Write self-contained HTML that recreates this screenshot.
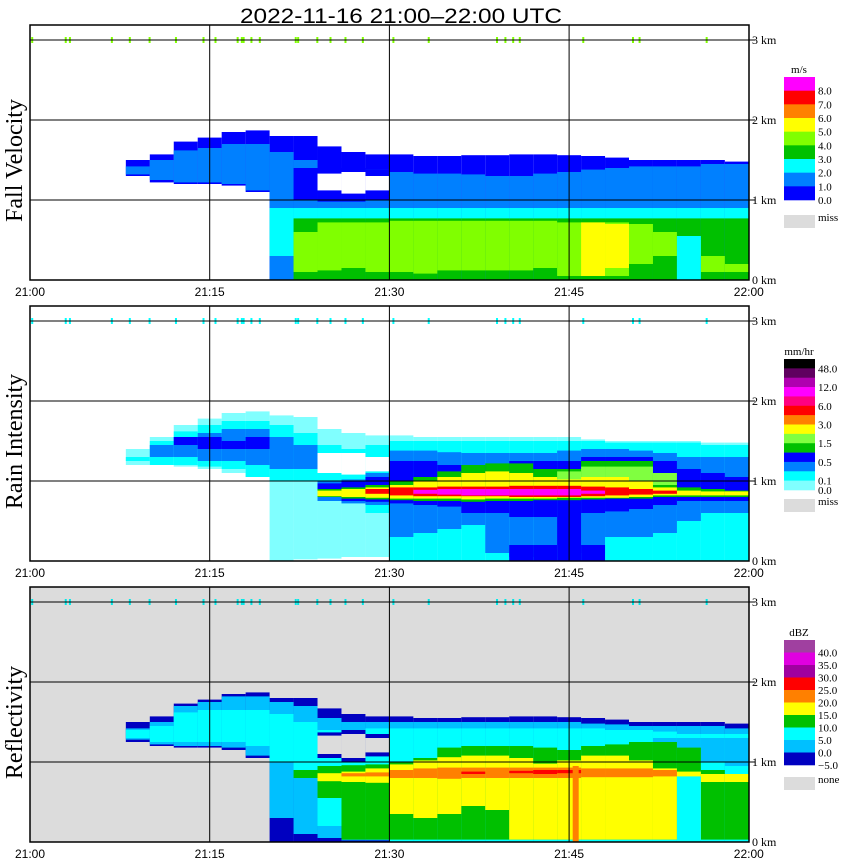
<!DOCTYPE html>
<html><head><meta charset="utf-8"><style>
html,body{margin:0;padding:0;background:#fff;}
svg{display:block;font-family:"Liberation Serif",serif;}
</style></head><body>
<svg id="chart" width="850" height="868" viewBox="0 0 850 868" xmlns="http://www.w3.org/2000/svg">
<text x="240" y="23" font-family="Liberation Sans, sans-serif" font-size="21" textLength="322" lengthAdjust="spacingAndGlyphs">2022-11-16  21:00–22:00 UTC</text>
</svg>
<script>
// ---------- data (minutes after 21:00, 2-min columns, heights in km) ----------
const timeTicks = [0, 15, 30, 45, 60];
const timeLabels = ["21:00", "21:15", "21:30", "21:45", "22:00"];
const kmTicks = [0, 1, 2, 3];
const speckMinutes = [0.1,2.9,3.25,6.75,8.25,9.9,12.1,14.4,15.4,17.25,17.6,17.75,18.4,19.1,22.1,22.3,23.9,25,26.25,27.7,30.25,33.2,38.9,39.6,40.25,40.8,46.1,50.25,50.8,56.4];

// Fall velocity
const fvOuterTop = [1.5,1.57,1.73,1.78,1.85,1.87,1.8,1.8,1.67,1.6,1.57,1.57,1.55,1.55,1.56,1.56,1.57,1.57,1.56,1.55,1.53,1.5,1.5,1.5,1.5,1.48];
const fvOuterBot = [1.3,1.22,1.2,1.2,1.18,1.1,0,0,0,0,0,0,0,0,0,0,0,0,0,0,0,0,0,0,0,0];
const fvMedTop = [1.42,1.5,1.62,1.65,1.7,1.7,1.6,1.5,1.35,1.35,1.38,1.35,1.33,1.33,1.32,1.3,1.3,1.33,1.35,1.38,1.4,1.42,1.42,1.42,1.45,1.45];
const fvMedBot = [1.32,1.25,1.22,1.22,1.2,1.12,0,0,0,0,0,0,0,0,0,0,0,0,0,0,0,0,0,0,0,0];
const fvBandTop = [1.4,1.4,1.4,1.38];
const fvBandBot = [1.0,0.98,0.98,1.0];
const fvHoleTop = [1.33,1.35,1.3];
const fvHoleBot = [1.12,1.08,1.12];
const fvCyanTop = [0.9,0.9,0.9,0.9,0.9,0.9,0.9,0.9,0.9,0.9,0.9,0.9,0.9,0.9,0.9,0.9,0.9,0.9,0.9,0.9];
const fvCyanBot = [0.3,0.5,0.75,0.75,0.75,0.75,0.75,0.75,0.75,0.75,0.75,0.75,0.75,0.75,0.75,0.75,0.75,0.75,0.75,0.75];
const fvGreenTop = [0.77,0.77,0.77,0.77,0.77,0.77,0.77,0.77,0.77,0.77,0.77,0.77,0.77,0.77,0.77,0.77,0.77,0.77,0.77];
const fvGreenBot = [0,0,0,0,0,0,0,0,0,0,0,0,0,0,0,0,0,0,0];
const fvLgTop = [0.6,0.72,0.72,0.72,0.74,0.74,0.74,0.74,0.74,0.74,0.74,0.72,0.72,0.72,0.7,0.6,0.5,0.3,0.2];
const fvLgBot = [0.1,0.12,0.15,0.1,0.1,0.08,0.12,0.12,0.12,0.12,0.15,0.05,0.05,0.05,0.2,0.3,0.3,0.1,0.1];
const fvYelTop = [0.72,0.7];
const fvYelBot = [0.05,0.15];
const fvCyan2Top = [0.55];
const fvCyan2Bot = [0];

// Rain intensity
const riOuterTop = [1.4,1.55,1.7,1.78,1.85,1.87,1.82,1.8,1.65,1.6,1.57,1.57,1.55,1.55,1.55,1.55,1.55,1.55,1.55,1.52,1.5,1.5,1.5,1.5,1.48,1.48];
const riOuterBot = [1.2,1.2,1.18,1.15,1.1,1.05,0,0.02,0.03,0.05,0.05,0,0,0,0,0,0,0,0,0,0,0,0,0,0,0];
const riCyanTop = [1.3,1.5,1.62,1.7,1.75,1.75,1.7,1.6,1.45,1.4,1.45,1.5,1.5,1.5,1.5,1.5,1.5,1.5,1.5,1.5,1.48,1.48,1.48,1.48,1.45,1.45];
const riCyanBot = [1.25,1.2,1.2,1.18,1.15,1.05,1.0,1.0,0.95,0.9,0.6,0,0,0,0,0,0,0,0,0,0,0,0,0,0,0];
const riMedTop = [null,1.45,1.55,1.6,1.65,1.65,1.55,1.45,1.0,1.02,1.1,1.38,1.38,1.36,1.35,1.35,1.35,1.35,1.38,1.4,1.4,1.38,1.35,1.3,1.3,1.3];
const riMedBot = [null,1.3,1.3,1.25,1.25,1.2,1.15,1.15,0.75,0.72,0.7,0.3,0.35,0.4,0.45,0.1,0.05,0.05,0.2,0.1,0.3,0.3,0.35,0.5,0.6,0.6];
const riDarkTop = [1.55,1.55,1.5,1.55];
const riDarkBot = [1.45,1.4,1.4,1.4];
const riHoleTop = [1.35,1.35,1.3];
const riHoleBot = [1.1,1.08,1.12];
const riDark2Top = [0.97,1.0,1.05,1.25,1.25,1.2,1.2,1.2,1.25,1.25,1.25,1.3,1.3,1.3,1.25,1.15,1.1,1.05];
const riDark2Bot = [0.8,0.75,0.74,0.72,0.7,0.68,0.6,0.6,0.55,0.55,0.5,0.6,0.62,0.65,0.7,0.75,0.75,0.75];
const riDark3Top = [0.2,0.2,0.5,0.2];
const riDark3Bot = [0,0,0,0];
const riGreenTop = [0.9,0.92,0.95,1.0,1.05,1.12,1.2,1.22,1.22,1.15,1.15,1.25,1.25,1.25,1.0,0.92,0.9,0.88];
const riGreenBot = [0.8,0.78,0.77,0.76,0.75,0.75,0.74,0.75,0.75,0.76,0.76,0.77,0.78,0.78,0.8,0.8,0.8,0.8];
const riLgTop = [1.12,1.18,1.18,1.18,1.1];
const riLgBot = [0.95,0.95,0.95,0.95,0.95];
const riYelTop = [0.88,0.9,0.92,0.95,1.0,1.05,1.1,1.12,1.1,1.05,1.02,1.05,1.05,1.0,0.92,0.88,0.87,0.87];
const riYelBot = [0.81,0.8,0.79,0.78,0.78,0.78,0.77,0.78,0.78,0.78,0.79,0.79,0.79,0.8,0.82,0.82,0.82,0.82];
const riRedTop = [0.9,0.92,0.92,0.93,0.93,0.93,0.94,0.94,0.94,0.93,0.92,0.9,0.88];
const riRedBot = [0.84,0.82,0.81,0.81,0.81,0.81,0.8,0.8,0.8,0.81,0.82,0.83,0.84];
const riMagTop = [0.89,0.9,0.9,0.9,0.9,0.9,0.9,0.88];
const riMagBot = [0.84,0.83,0.82,0.82,0.82,0.82,0.82,0.84];

// Reflectivity
const rfOuterTop = [1.5,1.57,1.73,1.78,1.85,1.87,1.8,1.8,1.67,1.6,1.57,1.57,1.55,1.55,1.56,1.56,1.57,1.57,1.56,1.55,1.53,1.5,1.5,1.5,1.5,1.48];
const rfOuterBot = [1.25,1.2,1.18,1.18,1.15,1.05,0,0,0,0,0,0,0,0,0,0,0,0,0,0,0,0,0,0,0,0];
const rfSkyTop = [1.42,1.5,1.7,1.75,1.82,1.82,1.75,1.7,1.55,1.5,1.5,1.5,1.5,1.5,1.5,1.5,1.5,1.5,1.5,1.48,1.47,1.45,1.45,1.45,1.45,1.42];
const rfSkyBot = [1.28,1.22,1.2,1.2,1.18,1.08,0.3,0.1,0.05,0.02,0.02,0,0,0,0,0,0,0,0,0,0,0,0,0,0,0];
const rfCyanTop = [1.4,1.45,1.62,1.65,1.65,1.65,1.6,1.5,1.4,1.4,1.42,1.42,1.42,1.42,1.42,1.42,1.42,1.42,1.42,1.42,1.4,1.4,1.38,1.35,1.35,1.35];
const rfCyanBot = [1.3,1.25,1.25,1.25,1.25,1.2,1.0,0.9,0.2,0.05,0.03,0,0,0,0,0,0,0,0,0,0,0,0,0,0,0];
const rfSky2Top = [1.3,1.3,1.3,1.3];
const rfSky2Bot = [1.1,1.0,1.0,0.95];
const rfRimTop = [1.37,1.4,1.35];
const rfRimBot = [1.05,1.0,1.07];
const rfHoleTop = [1.33,1.35,1.3];
const rfHoleBot = [1.1,1.05,1.12];
const rfGreenTop = [0.9,0.95,0.96,0.97,1.0,1.05,1.18,1.2,1.2,1.2,1.18,1.15,1.2,1.22,1.25,1.25,1.18,0.9,0.85];
const rfGreenBot = [0.8,0.55,0.03,0.03,0.03,0.03,0.03,0.03,0.03,0.03,0.03,0.03,0.03,0.03,0.03,0.03,0.03,0.03,0.03];
const rfYelTop = [0.86,0.88,0.92,0.97,1.02,1.06,1.08,1.08,1.05,0.98,1.02,1.08,1.08,1.02,0.92,0.88,0.85,0.85];
const rfYelBot = [0.76,0.75,0.74,0.35,0.3,0.35,0.45,0.4,0.03,0.03,0.03,0.03,0.03,0.03,0.03,0.03,0.75,0.75];
const rfOrgTop = [0.86,0.87,0.9,0.92,0.93,0.93,0.93,0.93,0.93,0.93,0.92,0.92,0.92,0.9];
const rfOrgBot = [0.82,0.82,0.8,0.8,0.79,0.8,0.8,0.8,0.8,0.8,0.81,0.81,0.81,0.82];
const rfRedTop = [0.88,null,0.89,0.9,0.9];
const rfRedBot = [0.85,null,0.86,0.85,0.86];
const rfCyan2Top = [0.82];
const rfCyan2Bot = [0.02];
const rfStreakMin = [45.3];
const rfStreakTop = [0.95];

// ---------- drawing ----------
const NS = "http://www.w3.org/2000/svg";
const svg = document.getElementById("chart");
const X0 = 30, PX_PER_MIN = 11.98, PX_PER_KM = 80;
function xScale(m) { return X0 + m * PX_PER_MIN; }
function yScale(base, h) { return base - h * PX_PER_KM; }
function mk(tag, attrs, parent) {
  const e = document.createElementNS(NS, tag);
  for (const k in attrs) e.setAttribute(k, attrs[k]);
  (parent || svg).appendChild(e);
  return e;
}
function layer(g, base, t0, tops, bots, color, name) {
  for (let i = 0; i < tops.length; i++) {
    if (tops[i] == null || bots[i] == null) continue;
    const m = t0 + 2 * i;
    const x1 = xScale(m), x2 = xScale(Math.min(m + 2, 60));
    const y1 = yScale(base, tops[i]), y2 = yScale(base, bots[i]);
    const r = mk("rect", {x: x1, y: y1, width: x2 - x1, height: Math.max(0, y2 - y1), fill: color}, g);
    
    
  }
}
function panel(key, base, title, bg, speckColor) {
  const g = mk("g", {});
  
  
  const top = base - 255;
  const bgr = mk("rect", {x: X0, y: top, width: 719, height: 255, fill: bg}, g);
  
  
  return {g, base, top, title, speckColor, key};
}
function finish(p) {
  const {g, base, top, title, speckColor, key} = p;
  for (let i = 0; i < speckMinutes.length; i++) {
    const s = mk("rect", {x: xScale(speckMinutes[i]), y: yScale(base, 3) - 3, width: 2, height: 6, fill: speckColor}, g);
    
    
  }
  for (let i = 1; i < 4; i++) {
    const v = mk("line", {x1: xScale(timeTicks[i]), x2: xScale(timeTicks[i]), y1: top, y2: base, stroke: "#000", "stroke-width": 1}, g);
    
    
  }
  for (const k of kmTicks) {
    const y = yScale(base, k);
    if (k > 0) {
      const h = mk("line", {x1: X0, x2: 755, y1: y, y2: y, stroke: "#000", "stroke-width": 1}, g);
      
      
    }
    const t = mk("text", {x: 752, y: y + 4, "font-size": 12}, g);
    t.textContent = k + " km";
    
    
  }
  const fr = mk("rect", {x: X0, y: top, width: 719, height: 255, fill: "none", stroke: "#000", "stroke-width": 1.5}, g);
  
  
  for (let i = 0; i < timeTicks.length; i++) {
    const t = mk("text", {x: xScale(timeTicks[i]), y: base + 16, "font-size": 12, "text-anchor": "middle", "font-family": "Liberation Sans, sans-serif"}, g);
    t.textContent = timeLabels[i];
    
    
  }
  const cy = (top + base) / 2 + 8;
  const yt = mk("text", {x: 22, y: cy, "font-size": 24, "text-anchor": "middle", transform: "rotate(-90 22 " + cy + ")"}, g);
  yt.textContent = title;
  
  
}
function legend(key, unit, colors, labels, yTop, yBot, missY, missText, labelAtIdx) {
  const g = mk("g", {});
  
  
  const u = mk("text", {x: 799, y: yTop - 4, "font-size": 11, "text-anchor": "middle"}, g);
  u.textContent = unit;
  
  
  const h = (yBot - yTop) / colors.length;
  for (let i = 0; i < colors.length; i++) {
    const r = mk("rect", {x: 784, y: yTop + i * h, width: 31, height: h + 0.3, fill: colors[i]}, g);
    
    
  }
  for (let j = 0; j < labels.length; j++) {
    const y = yTop + (labelAtIdx[j] + 1) * h;
    const t = mk("text", {x: 818, y: y + 4, "font-size": 11}, g);
    t.textContent = labels[j];
    
    
  }
  const m = mk("rect", {x: 784, y: missY, width: 31, height: 13, fill: "#dcdcdc"}, g);
  
  
  const mt = mk("text", {x: 818, y: missY + 6, "font-size": 11}, g);
  mt.textContent = missText;
  
  
}

const BLUE = "#0000ff", MED = "#0080ff", CYAN = "#00ffff", GREEN = "#00c000", LG = "#80ff00", YEL = "#ffff00";

// Panel 1
let p = panel("fall-velocity", 280, "Fall Velocity", "#ffffff", "#80ff00");
layer(p.g, 280, 8, fvOuterTop, fvOuterBot, BLUE, "fv-echo-0-1");
layer(p.g, 280, 8, fvMedTop, fvMedBot, MED, "fv-echo-1-2");
layer(p.g, 280, 22, fvBandTop, fvBandBot, BLUE, "fv-echo-band");
layer(p.g, 280, 24, fvHoleTop, fvHoleBot, "#ffffff", "fv-hole");
layer(p.g, 280, 20, fvCyanTop, fvCyanBot, CYAN, "fv-echo-2-3");
layer(p.g, 280, 22, fvGreenTop, fvGreenBot, GREEN, "fv-echo-3-4");
layer(p.g, 280, 22, fvLgTop, fvLgBot, LG, "fv-echo-4-5");
layer(p.g, 280, 46, fvYelTop, fvYelBot, YEL, "fv-echo-5-6");
layer(p.g, 280, 54, fvCyan2Top, fvCyan2Bot, CYAN, "fv-echo-cyan-column");
finish(p);

// Panel 2
p = panel("rain-intensity", 561, "Rain Intensity", "#ffffff", "#00ffff");
layer(p.g, 561, 8, riOuterTop, riOuterBot, "#80ffff", "ri-echo-0-0.1");
layer(p.g, 561, 8, riCyanTop, riCyanBot, CYAN, "ri-echo-cyan");
layer(p.g, 561, 8, riMedTop, riMedBot, MED, "ri-echo-medblue");
layer(p.g, 561, 12, riDarkTop, riDarkBot, BLUE, "ri-echo-blue-upper");
layer(p.g, 561, 24, riHoleTop, riHoleBot, "#ffffff", "ri-hole");
layer(p.g, 561, 24, riDark2Top, riDark2Bot, BLUE, "ri-echo-blue-band");
layer(p.g, 561, 40, riDark3Top, riDark3Bot, BLUE, "ri-echo-blue-lower");
layer(p.g, 561, 24, riGreenTop, riGreenBot, GREEN, "ri-echo-green");
layer(p.g, 561, 44, riLgTop, riLgBot, "#80ff40", "ri-echo-lightgreen");
layer(p.g, 561, 24, riYelTop, riYelBot, YEL, "ri-echo-yellow");
layer(p.g, 561, 28, riRedTop, riRedBot, "#ff0000", "ri-echo-red");
layer(p.g, 561, 32, riMagTop, riMagBot, "#ff00ff", "ri-echo-magenta");
finish(p);

// Panel 3
p = panel("reflectivity", 842, "Reflectivity", "#dcdcdc", "#00e8e8");
layer(p.g, 842, 8, rfOuterTop, rfOuterBot, "#0000c0", "rf-echo-minus5-0");
layer(p.g, 842, 8, rfSkyTop, rfSkyBot, "#00c0ff", "rf-echo-0-5");
layer(p.g, 842, 8, rfCyanTop, rfCyanBot, CYAN, "rf-echo-5-10");
layer(p.g, 842, 52, rfSky2Top, rfSky2Bot, "#00c0ff", "rf-echo-0-5-right");
layer(p.g, 842, 24, rfRimTop, rfRimBot, "#0000c0", "rf-hole-rim");
layer(p.g, 842, 24, rfHoleTop, rfHoleBot, "#dcdcdc", "rf-hole");
layer(p.g, 842, 22, rfGreenTop, rfGreenBot, GREEN, "rf-echo-10-15");
layer(p.g, 842, 24, rfYelTop, rfYelBot, YEL, "rf-echo-15-20");
layer(p.g, 842, 26, rfOrgTop, rfOrgBot, "#ff8000", "rf-echo-20-25");
layer(p.g, 842, 36, rfRedTop, rfRedBot, "#ff0000", "rf-echo-25-30");
layer(p.g, 842, 54, rfCyan2Top, rfCyan2Bot, CYAN, "rf-echo-cyan-column");
for (let i = 0; i < rfStreakMin.length; i++) {
  const s = mk("rect", {x: xScale(rfStreakMin[i]), y: yScale(842, rfStreakTop[i]), width: 6, height: rfStreakTop[i] * PX_PER_KM, fill: "#ff8000"}, p.g);
  
  
}
finish(p);

legend("fall-velocity", "m/s",
  ["#ff00ff","#ff0000","#ff8000","#ffff00","#80ff00","#00c000","#00ffff","#0080ff","#0000ff"],
  ["8.0","7.0","6.0","5.0","4.0","3.0","2.0","1.0","0.0"], 77, 200, 215, "miss", [0,1,2,3,4,5,6,7,8]);
legend("rain-intensity", "mm/hr",
  ["#000000","#600060","#b000b0","#ff00ff","#ff0080","#ff0000","#ff8000","#ffff00","#80ff40","#00c000","#0000ff","#0080ff","#00ffff","#80ffff"],
  ["48.0","12.0","6.0","3.0","1.5","0.5","0.1","0.0"], 359, 490, 499, "miss", [0,2,4,6,8,10,12,13]);
legend("reflectivity", "dBZ",
  ["#a040a0","#e000e0","#a000a0","#ff0000","#ff8000","#ffff00","#00c000","#00ffff","#00c0ff","#0000c0"],
  ["40.0","35.0","30.0","25.0","20.0","15.0","10.0","5.0","0.0","−5.0"], 640, 765, 777, "none", [0,1,2,3,4,5,6,7,8,9]);
</script>
</body></html>
